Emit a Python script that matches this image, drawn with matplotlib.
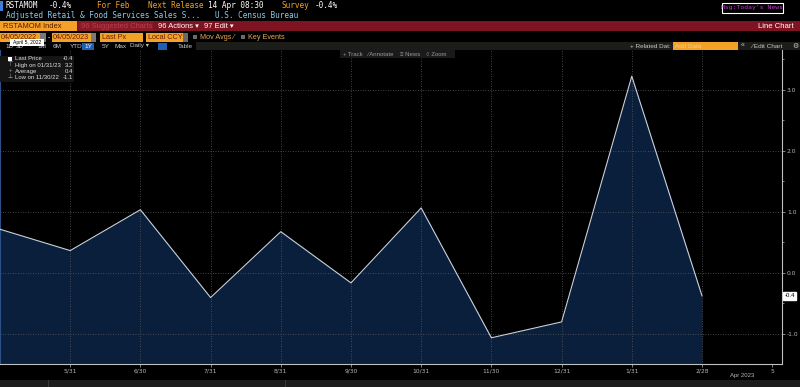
import matplotlib
matplotlib.use("Agg")
import matplotlib.pyplot as plt
from matplotlib.patches import Rectangle
from matplotlib.transforms import blended_transform_factory

# monthly retail sales change, % m/m
months = ['4/30', '5/31', '6/30', '7/31', '8/31', '9/30', '10/31', '11/30', '12/31', '1/31', '2/28']
values = [0.71, 0.36, 1.03, -0.41, 0.67, -0.17, 1.06, -1.07, -0.81, 3.22, -0.38]
tick_labels = ['5/31', '6/30', '7/31', '8/31', '9/30', '10/31', '11/30', '12/31', '1/31', '2/28', '5']
y_ticks = [-1.0, 0.0, 1.0, 2.0, 3.0]
legend_rows = [('Last Price', '-0.4'), ('High on 01/31/23', '3.2'),
               ('Average', '0.4'), ('Low on 11/30/22', '-1.1')]

W, H = 800, 387
ORANGE = '#f4a227'
RED = '#7e1422'
MONO = ['DejaVu Sans Mono', 'DejaVu Sans']
SANS = ['Liberation Sans', 'DejaVu Sans']

fig = plt.figure(figsize=(W / 100, H / 100), dpi=100, facecolor='black')


def box(x, y, w, h, color, ec=None, lw=0.0, z=1):
    fig.patches.append(Rectangle((x / W, 1 - (y + h) / H), w / W, h / H,
                                 transform=fig.transFigure, facecolor=color,
                                 edgecolor=ec if ec else color, linewidth=lw, zorder=z))


def txt(x, y, s, color, size, family=SANS, ha='left', z=5):
    fig.text(x / W, 1 - y / H, s, color=color, fontsize=size, family=family,
             ha=ha, va='center', zorder=z)


# ---- header rows ----
box(0, 1, 3, 10, '#3d7fd6')
txt(6, 6, 'RSTAMOM', 'white', 5.6, MONO)
txt(49, 6, '-0.4%', 'white', 5.6, MONO)
txt(97, 6, 'For Feb', ORANGE, 5.6, MONO)
txt(148, 6, 'Next Release', ORANGE, 5.6, MONO)
txt(208, 6, '14 Apr 08:30', 'white', 5.6, MONO)
txt(282, 6, 'Survey', ORANGE, 5.6, MONO)
txt(315, 6, '-0.4%', 'white', 5.6, MONO)
txt(6, 16, 'Adjusted Retail & Food Services Sales S...', '#8ecbec', 5.6, MONO)
txt(215, 16, 'U.S. Census Bureau', '#8ecbec', 5.6, MONO)
box(722, 3, 61, 10, 'black', ec='white', lw=0.8)
txt(752, 8, "Msg:Today's News", '#c23ec8', 4.6, MONO, ha='center')

box(0, 21, W, 10, RED)
box(0, 21, 77, 10, ORANGE, z=2)
txt(3, 26, 'RSTAMOM Index', '#5a1608', 5.4, z=6)
box(79, 21, 74, 10, '#8a1a28', z=2)
txt(81, 26, '96 Suggested Charts', '#b8404c', 5.4, z=6)
txt(158, 26, '96 Actions \u25be', 'white', 5.4)
txt(204, 26, '97 Edit \u25be', 'white', 5.4)
txt(794, 26, 'Line Chart', 'white', 5.6, ha='right')

box(0, 33, 40, 9, ORANGE)
txt(1, 37.5, '04/05/2022', '#6a1c08', 5.2, z=6)
box(40, 33, 6, 9, '#7a7a7a')
txt(48, 37.5, '-', 'white', 5.2)
box(52, 33, 39, 9, ORANGE)
txt(53, 37.5, '04/05/2023', '#6a1c08', 5.2, z=6)
box(91, 33, 5, 9, '#7a7a7a')
box(100, 33, 43, 9, ORANGE)
txt(102, 37.5, 'Last Px', '#6a1c08', 5.2, z=6)
box(146, 33, 37, 9, ORANGE)
txt(148, 37.5, 'Local CCY', '#6a1c08', 5.2, z=6)
box(183, 33, 5, 9, '#6a6a6a')
box(193, 35, 4, 4, '#6a6a6a')
txt(200, 37.5, 'Mov Avgs \u2044', '#e8a855', 5.2)
box(241, 35, 4, 4, '#6a6a6a')
txt(248, 37.5, 'Key Events', '#e8a855', 5.2)
box(10, 39, 34, 7, 'white', z=7)
txt(27, 42.5, 'April 5, 2022', 'black', 3.6, ha='center', z=8)

box(196, 42, W - 196, 8, '#1c1c18')
for x, s in [(5, '1D'), (16, '3D'), (37, '1M'), (53, '6M'), (70, 'YTD'),
             (102, '5Y'), (115, 'Max'), (130, 'Daily \u25be'), (178, 'Table')]:
    txt(x, 46, s, '#c8c8c8', 4.6)
box(82, 42.5, 12, 7, '#1f5fb4')
txt(88, 46, '1Y', 'white', 4.6, ha='center', z=6)
box(158, 42.5, 9, 7, '#1f5fb4')
txt(630, 46, '+ Related Dat:', '#c8c8c8', 4.6)
box(673, 42, 65, 8, ORANGE, z=2)
txt(675, 46, 'Add Data', '#e8cf9a', 4.6, z=6)
txt(741, 46, '\u00ab', '#c8c8c8', 5)
txt(751, 46, '\u2044 Edit Chart', '#c8c8c8', 4.6)
txt(792, 46, '\u2699', '#c8c8c8', 5)

# ---- chart ----
ax = fig.add_axes([0, (H - 364) / H, 782 / W, (364 - 50) / H], facecolor='black')
xs = list(range(len(months)))
ax.fill_between(xs, values, -1.5, color='#0a1f3c', zorder=1, linewidth=0)
ax.plot(xs, values, color='#c9d2de', linewidth=0.8, zorder=3)
ax.set_xlim(0, 11.14)
ax.set_ylim(-1.5, 3.65)

ax.set_xticks(range(1, len(tick_labels) + 1))
ax.set_xticklabels(tick_labels)
ax.set_yticks(y_ticks)
ax.set_yticklabels([f'{v:.1f}' for v in y_ticks])
ax.set_yticks([-0.5, 0.5, 1.5, 2.5, 3.5], minor=True)
ax.yaxis.tick_right()
ax.tick_params(axis='both', colors='#b8b8b8', labelsize=4.3, length=2, width=0.5, pad=1.5)
ax.tick_params(axis='y', which='minor', colors='#b8b8b8', length=1.5, width=0.5)
ax.tick_params(axis='x', labelsize=4.3, pad=1.5)

ax.grid(axis='y', color='#5a5a5a', linestyle=(0, (1, 2)), linewidth=0.6, zorder=2)
for x in range(1, len(months)):
    ax.axvline(x, color='#5a5a5a', linestyle=(0, (1, 2)), linewidth=0.6, zorder=2)

ax.spines['top'].set_visible(False)
ax.spines['bottom'].set_color('#c0c0c0')
ax.spines['right'].set_color('#c0c0c0')
ax.spines['left'].set_color('#2c4f86')
for s in ax.spines.values():
    s.set_linewidth(0.8)

# last price tag on the right axis
trans = blended_transform_factory(ax.transAxes, ax.transData)
ax.text(1.003, values[-1], '-0.4', transform=trans, fontsize=4.3, color='black',
        ha='left', va='center', family=SANS, clip_on=False,
        bbox=dict(boxstyle='square,pad=0.25', facecolor='white', edgecolor='white'))

txt(742, 376, 'Apr 2023', '#b8b8b8', 4.3, ha='center')

# legend box
box(0, 56, 74, 26, '#151515', z=6)
for i, (lab, val) in enumerate(legend_rows):
    yy = 59 + i * 6.2
    txt(15, yy, lab, '#e0e0e0', 4.3, z=8)
    txt(73, yy, val, '#e0e0e0', 4.3, ha='right', z=8)
box(8, 56.5, 4, 4, 'white', z=7)
txt(10, 65, '\u22a4', '#b0b0b0', 4.3, family=['DejaVu Sans'], ha='center', z=8)
txt(10, 71, '+', '#b0b0b0', 4.3, ha='center', z=8)
txt(10, 77, '\u22a5', '#b0b0b0', 4.3, family=['DejaVu Sans'], ha='center', z=8)

# chart toolbar inside the plot
box(340, 50, 115, 8, '#1a1a1a', z=6)
for x, s in [(343, '+ Track'), (367, '\u2044 Annotate'), (400, '\u2261 News'), (426, '\u25cb Zoom')]:
    txt(x, 54, s, '#9a9a9a', 4.3, z=8)

# bottom strip
box(0, 380, W, 7, '#1c1c1c')
box(48, 380, 1, 7, '#3a3a3a', z=2)
box(285, 380, 1, 7, '#3a3a3a', z=2)

fig.savefig('out.png', dpi=100, facecolor='black')
